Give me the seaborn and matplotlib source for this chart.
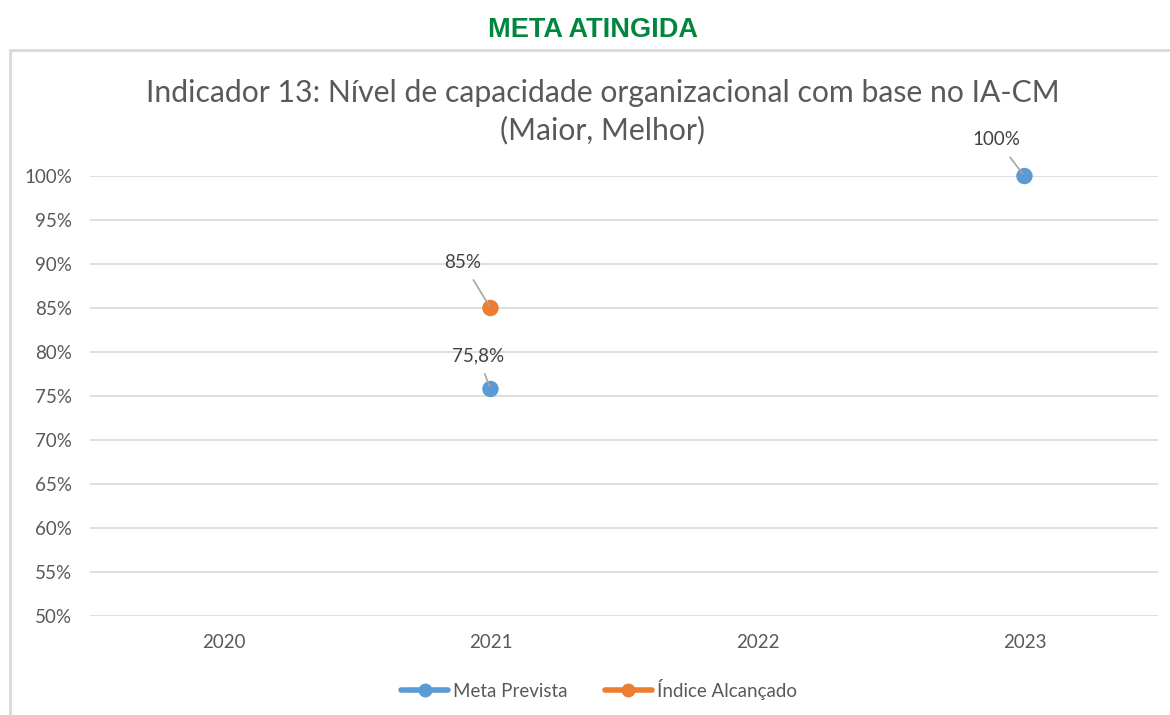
import matplotlib
matplotlib.use("Agg")
import matplotlib.pyplot as plt
from matplotlib.lines import Line2D
from matplotlib.patches import Rectangle
from matplotlib.ticker import FuncFormatter
import seaborn as sns
import pandas as pd

# data
anos = ["2020", "2021", "2022", "2023"]
meta_prevista = [None, 75.8, None, 100.0]
indice_alcancado = [None, 85.0, None, None]
rotulos_meta = [None, "75,8%", None, "100%"]
rotulos_indice = [None, "85%", None, None]
series = ["Meta Prevista", "Índice Alcançado"]

azul = "#5B9BD5"
laranja = "#ED7D31"
cinza = "#595959"

# long format table for seaborn
linhas = []
for i, ano in enumerate(anos):
    if meta_prevista[i] is not None:
        linhas.append([i, meta_prevista[i], series[0], rotulos_meta[i]])
    if indice_alcancado[i] is not None:
        linhas.append([i, indice_alcancado[i], series[1], rotulos_indice[i]])
df = pd.DataFrame(linhas, columns=["pos", "valor", "serie", "rotulo"])

sns.set_theme(style="white")
plt.rcParams["font.family"] = ["Lato", "DejaVu Sans"]

fig = plt.figure(figsize=(11.7, 7.15), dpi=100)
ax = fig.add_axes([0.0769, 0.1385, 0.9128, 0.6153])

sns.scatterplot(
    data=df, x="pos", y="valor", hue="serie",
    palette={series[0]: azul, series[1]: laranja},
    s=140, edgecolor="none", legend=False, ax=ax, zorder=5, clip_on=False,
)

# data labels with leader lines
offsets = {"75,8%": (-9, 24), "85%": (-20, 33), "100%": (-20, 26)}
for _, r in df.iterrows():
    ax.annotate(
        r["rotulo"], xy=(r["pos"], r["valor"]),
        xytext=offsets.get(r["rotulo"], (-15, 25)), textcoords="offset points",
        ha="center", va="center", fontsize=13.5, color="#404040",
        arrowprops=dict(arrowstyle="-", color="#a6a6a6", lw=1.2,
                        shrinkA=5, shrinkB=2),
        zorder=6,
    )

ax.set_xlim(-0.5, len(anos) - 0.5)
ax.set_ylim(50, 100)
ax.set_xticks(range(len(anos)))
ax.set_xticklabels(anos)
ax.set_yticks(range(50, 101, 5))
ax.yaxis.set_major_formatter(FuncFormatter(lambda v, p: f"{v:.0f}%"))
ax.tick_params(axis="both", length=0, labelsize=13.5, labelcolor=cinza)
ax.tick_params(axis="y", pad=13)
ax.tick_params(axis="x", pad=13)
ax.set_xlabel("")
ax.set_ylabel("")
ax.grid(axis="y", color="#d9d9d9", lw=1.2)
ax.grid(axis="x", visible=False)
for s in ax.spines.values():
    s.set_visible(False)

# outer frame (cut off at right and bottom)
fig.patches.append(Rectangle((10 / 1170, -0.1), 1.2, (715 - 50) / 715 + 0.1,
                             transform=fig.transFigure, fill=False,
                             edgecolor="#d9d9d9", lw=2, zorder=0))

fig.text(0.507, (715 - 30) / 715, "META ATINGIDA", ha="center", va="center",
         fontsize=19.5, fontweight="bold", color="#00873E",
         family=["Liberation Sans", "DejaVu Sans"])
# chart title, one text per line
fig.text(0.515, (715 - 93) / 715,
         "Indicador 13: Nível de capacidade organizacional com base no IA-CM",
         ha="center", va="center", fontsize=21.7, color=cinza)
fig.text(0.515, (715 - 130) / 715, "(Maior, Melhor)",
         ha="center", va="center", fontsize=21.7, color=cinza)

handles = [
    Line2D([], [], color=azul, lw=4, marker="o", markersize=9),
    Line2D([], [], color=laranja, lw=4, marker="o", markersize=9),
]
leg = fig.legend(handles, series, loc="center", bbox_to_anchor=(0.512, 0.036),
                 ncol=2, frameon=False, fontsize=13.5, handlelength=2.5,
                 handletextpad=0.25, columnspacing=2.0)
for t in leg.get_texts():
    t.set_color(cinza)

fig.savefig("out.png", dpi=100)
